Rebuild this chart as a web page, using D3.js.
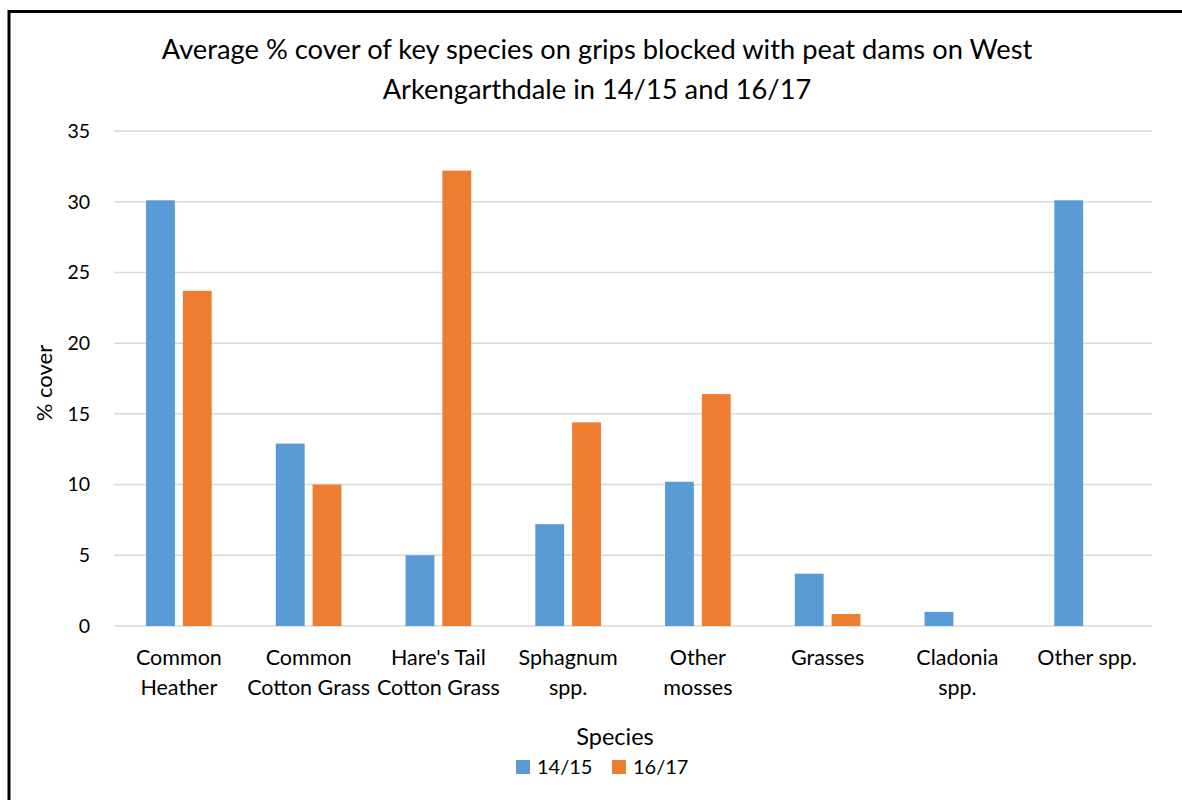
<!DOCTYPE html>
<html>
<head>
<meta charset="utf-8">
<script src="https://cdn.jsdelivr.net/npm/d3@7/dist/d3.min.js"></script>
<style>
  html, body { margin: 0; padding: 0; background: #fff; }
  svg { display: block; font-family: "Lato", "Open Sans", sans-serif; }
</style>
</head>
<body>
<svg id="chart" width="1182" height="800"></svg>
<script>
// Species groups (label lines) and mean % cover per survey period
const categories = [
  ["Common", "Heather"],
  ["Common", "Cotton Grass"],
  ["Hare's Tail", "Cotton Grass"],
  ["Sphagnum", "spp."],
  ["Other", "mosses"],
  ["Grasses"],
  ["Cladonia", "spp."],
  ["Other spp."]
];
const seriesNames = ["14/15", "16/17"];
const cover1415 = [30.1, 12.9, 5.0, 7.2, 10.2, 3.7, 1.0, 30.1];
const cover1617 = [23.7, 10.0, 32.2, 14.4, 16.4, 0.85, 0, 0];
const yTicks = [0, 5, 10, 15, 20, 25, 30, 35];
const colors = ["#5B9BD5", "#ED7D31"];

const svg = d3.select("#chart");

// outer chart frame
svg.append("rect")
  .attr("x", 9).attr("y", 11.5)
  .attr("width", 1300).attr("height", 1000)
  .attr("fill", "none").attr("stroke", "#000").attr("stroke-width", 3);

const plot = { left: 114, right: 1152, top: 131, bottom: 626 };

const catKeys = categories.map(c => c.join(" "));
const x0 = d3.scaleBand().domain(catKeys).range([plot.left, plot.right]).padding(0);
const x1 = d3.scaleBand().domain(seriesNames)
  .range([x0.bandwidth() * 0.247, x0.bandwidth() * 0.753]).paddingInner(0.216);
const y = d3.scaleLinear().domain([0, 35]).range([plot.bottom, plot.top]);

// gridlines
svg.append("g").selectAll("line").data(yTicks).join("line")
  .attr("x1", plot.left).attr("x2", plot.right)
  .attr("y1", d => y(d)).attr("y2", d => y(d))
  .attr("stroke", "#D9D9D9").attr("stroke-width", 1.5);

// y tick labels
svg.append("g").selectAll("text").data(yTicks).join("text")
  .attr("x", 90).attr("y", d => y(d))
  .attr("dy", "0.35em")
  .attr("text-anchor", "end")
  .attr("font-size", 19.5).attr("fill", "#000")
  .text(d => d);

// bars
const rows = catKeys.map((k, i) => ({ key: k, values: [cover1415[i], cover1617[i]] }));
const groups = svg.append("g").selectAll("g").data(rows).join("g")
  .attr("transform", d => `translate(${x0(d.key)},0)`);
groups.selectAll("rect")
  .data(d => d.values.map((v, j) => ({ series: seriesNames[j], v, j })))
  .join("rect")
  .attr("x", d => x1(d.series))
  .attr("width", x1.bandwidth())
  .attr("y", d => y(d.v))
  .attr("height", d => y(0) - y(d.v))
  .attr("fill", d => colors[d.j]);

// category labels
const catG = svg.append("g").selectAll("text").data(categories).join("text")
  .attr("x", (d, i) => x0(catKeys[i]) + x0.bandwidth() / 2)
  .attr("y", 665)
  .attr("text-anchor", "middle")
  .attr("font-size", 21.5).attr("fill", "#000");
catG.selectAll("tspan").data(d => d).join("tspan")
  .attr("x", function () { return d3.select(this.parentNode).attr("x"); })
  .attr("dy", (d, i) => i === 0 ? 0 : 30)
  .text(d => d);

// title
const title = svg.append("text")
  .attr("text-anchor", "middle")
  .attr("font-size", 27.3).attr("fill", "#000");
title.append("tspan").attr("x", 597).attr("y", 59)
  .text("Average % cover of key species on grips blocked with peat dams on West");
title.append("tspan").attr("x", 597).attr("y", 99)
  .text("Arkengarthdale in 14/15 and 16/17");

// axis titles
svg.append("text")
  .attr("transform", "translate(52,383) rotate(-90)")
  .attr("text-anchor", "middle")
  .attr("font-size", 22).attr("fill", "#000")
  .text("% cover");
svg.append("text")
  .attr("x", 615).attr("y", 745)
  .attr("text-anchor", "middle")
  .attr("font-size", 23.5).attr("fill", "#000")
  .text("Species");

// legend
const legendX = [516, 612];
const leg = svg.append("g").selectAll("g").data(seriesNames).join("g")
  .attr("transform", (d, i) => `translate(${legendX[i]},760)`);
leg.append("rect").attr("width", 14).attr("height", 14)
  .attr("fill", (d, i) => colors[i]);
leg.append("text").attr("x", 21).attr("y", 7).attr("dy", "0.35em")
  .attr("font-size", 20).attr("fill", "#000")
  .text(d => d);
</script>
</body>
</html>
